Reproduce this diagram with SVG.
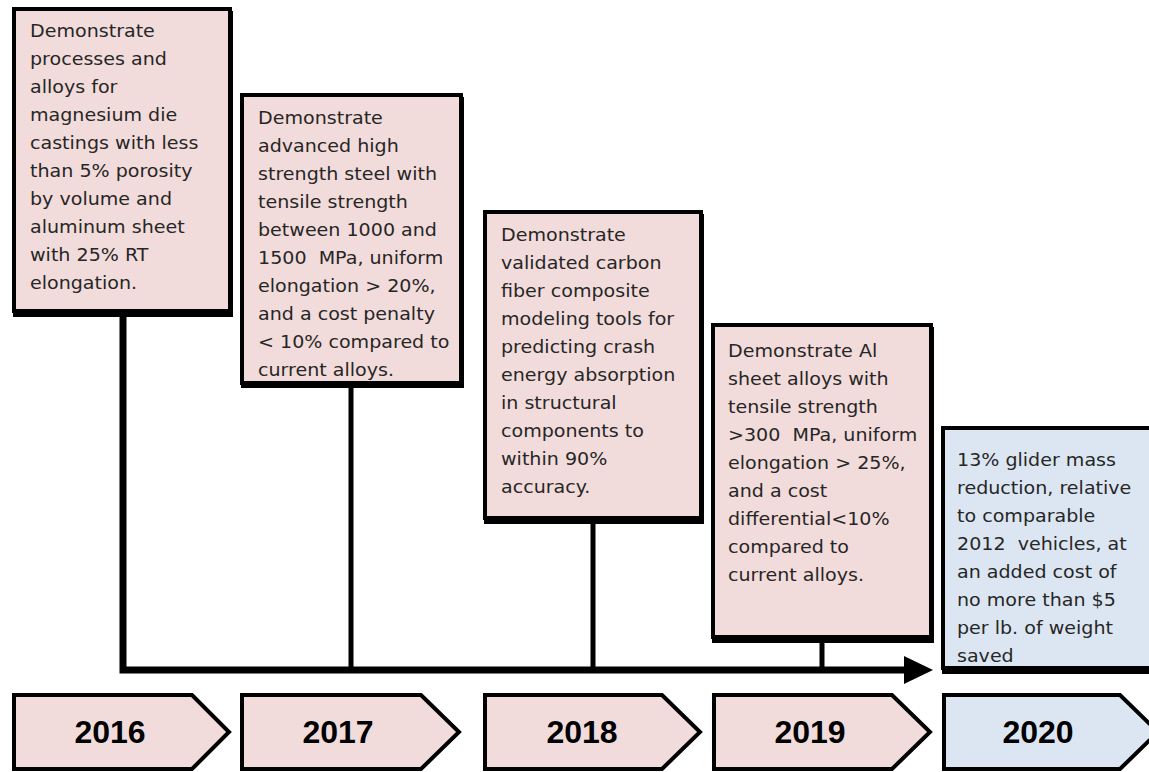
<svg xmlns="http://www.w3.org/2000/svg" width="1149" height="772" viewBox="0 0 1149 772">
<style>
.pink{fill:#F2DCDB;stroke:#000;stroke-width:4}
.blue{fill:#DCE6F2;stroke:#000;stroke-width:4}
.shadow{fill:#000}
.t{font-family:"DejaVu Sans",sans-serif;font-size:18px;fill:#262626}
.yr{font-family:"Liberation Sans",Arial,sans-serif;font-size:32px;font-weight:bold;fill:#000;text-anchor:middle}
.line{stroke:#000;fill:none;stroke-linejoin:miter}
</style>
<rect width="1149" height="772" fill="#fff"/>
<g id="connectors">
  <polyline class="line" points="123,312 123,670 907,670" stroke-width="7"/>
  <line class="line" x1="351" y1="385" x2="351" y2="670" stroke-width="5"/>
  <line class="line" x1="593" y1="520" x2="593" y2="670" stroke-width="5"/>
  <line class="line" x1="822" y1="638" x2="822" y2="670" stroke-width="5"/>
  <polygon points="904,656 933,670 904,684" fill="#000"/>
</g>
<g id="box2016">
  <rect class="shadow" x="13" y="11" width="220" height="306"/>
  <rect class="pink" x="14" y="9" width="216" height="302"/>
  <g transform="translate(30,37) scale(1.06,1)">
    <text class="t" x="0" y="0"><tspan x="0" dy="0">Demonstrate</tspan><tspan x="0" dy="28">processes and</tspan><tspan x="0" dy="28">alloys for</tspan><tspan x="0" dy="28">magnesium die</tspan><tspan x="0" dy="28">castings with less</tspan><tspan x="0" dy="28">than 5% porosity</tspan><tspan x="0" dy="28">by volume and</tspan><tspan x="0" dy="28">aluminum sheet</tspan><tspan x="0" dy="28">with 25% RT</tspan><tspan x="0" dy="28">elongation.</tspan></text>
  </g>
</g>
<g id="box2017">
  <rect class="shadow" x="241" y="97" width="223" height="291"/>
  <rect class="pink" x="242" y="95" width="219" height="288"/>
  <g transform="translate(258,124) scale(1.06,1)">
    <text class="t" x="0" y="0"><tspan x="0" dy="0">Demonstrate</tspan><tspan x="0" dy="28">advanced high</tspan><tspan x="0" dy="28">strength steel with</tspan><tspan x="0" dy="28">tensile strength</tspan><tspan x="0" dy="28">between 1000 and</tspan><tspan x="0" dy="28">1500&#160; MPa, uniform</tspan><tspan x="0" dy="28">elongation &gt; 20%,</tspan><tspan x="0" dy="28">and a cost penalty</tspan><tspan x="0" dy="28">&lt; 10% compared to</tspan><tspan x="0" dy="28">current alloys.</tspan></text>
  </g>
</g>
<g id="box2018">
  <rect class="shadow" x="484" y="214" width="220" height="310"/>
  <rect class="pink" x="485" y="212" width="216" height="306"/>
  <g transform="translate(501,241) scale(1.06,1)">
    <text class="t" x="0" y="0"><tspan x="0" dy="0">Demonstrate</tspan><tspan x="0" dy="28">validated carbon</tspan><tspan x="0" dy="28">fiber composite</tspan><tspan x="0" dy="28">modeling tools for</tspan><tspan x="0" dy="28">predicting crash</tspan><tspan x="0" dy="28">energy absorption</tspan><tspan x="0" dy="28">in structural</tspan><tspan x="0" dy="28">components to</tspan><tspan x="0" dy="28">within 90%</tspan><tspan x="0" dy="28">accuracy.</tspan></text>
  </g>
</g>
<g id="box2019">
  <rect class="shadow" x="712" y="327" width="222" height="316"/>
  <rect class="pink" x="713" y="325" width="218" height="312"/>
  <g transform="translate(728,357) scale(1.06,1)">
    <text class="t" x="0" y="0"><tspan x="0" dy="0">Demonstrate Al</tspan><tspan x="0" dy="28">sheet alloys with</tspan><tspan x="0" dy="28">tensile strength</tspan><tspan x="0" dy="28">&gt;300&#160; MPa, uniform</tspan><tspan x="0" dy="28">elongation &gt; 25%,</tspan><tspan x="0" dy="28">and a cost</tspan><tspan x="0" dy="28">differential&lt;10%</tspan><tspan x="0" dy="28">compared to</tspan><tspan x="0" dy="28">current alloys.</tspan></text>
  </g>
</g>
<g id="box2020">
  <rect class="shadow" x="942" y="430" width="230" height="244"/>
  <rect class="blue" x="943" y="428" width="226" height="240"/>
  <g transform="translate(957,466) scale(1.06,1)">
    <text class="t" x="0" y="0"><tspan x="0" dy="0">13% glider mass</tspan><tspan x="0" dy="28">reduction, relative</tspan><tspan x="0" dy="28">to comparable</tspan><tspan x="0" dy="28">2012&#160; vehicles, at</tspan><tspan x="0" dy="28">an added cost of</tspan><tspan x="0" dy="28">no more than $5</tspan><tspan x="0" dy="28">per lb. of weight</tspan><tspan x="0" dy="28">saved</tspan></text>
  </g>
</g>
<g id="year2016">
  <path class="pink" d="M14,695 L192,695 L229,732 L192,769 L14,769 Z"/>
  <text class="yr" x="110" y="743">2016</text>
</g>
<g id="year2017">
  <path class="pink" d="M242,695 L421,695 L459,732 L421,769 L242,769 Z"/>
  <text class="yr" x="338" y="743">2017</text>
</g>
<g id="year2018">
  <path class="pink" d="M485,695 L662,695 L700,732 L662,769 L485,769 Z"/>
  <text class="yr" x="582" y="743">2018</text>
</g>
<g id="year2019">
  <path class="pink" d="M714,695 L892,695 L930,732 L892,769 L714,769 Z"/>
  <text class="yr" x="810" y="743">2019</text>
</g>
<g id="year2020">
  <path class="blue" d="M944,695 L1120,695 L1158,732 L1120,769 L944,769 Z"/>
  <text class="yr" x="1038" y="743">2020</text>
</g>
</svg>
